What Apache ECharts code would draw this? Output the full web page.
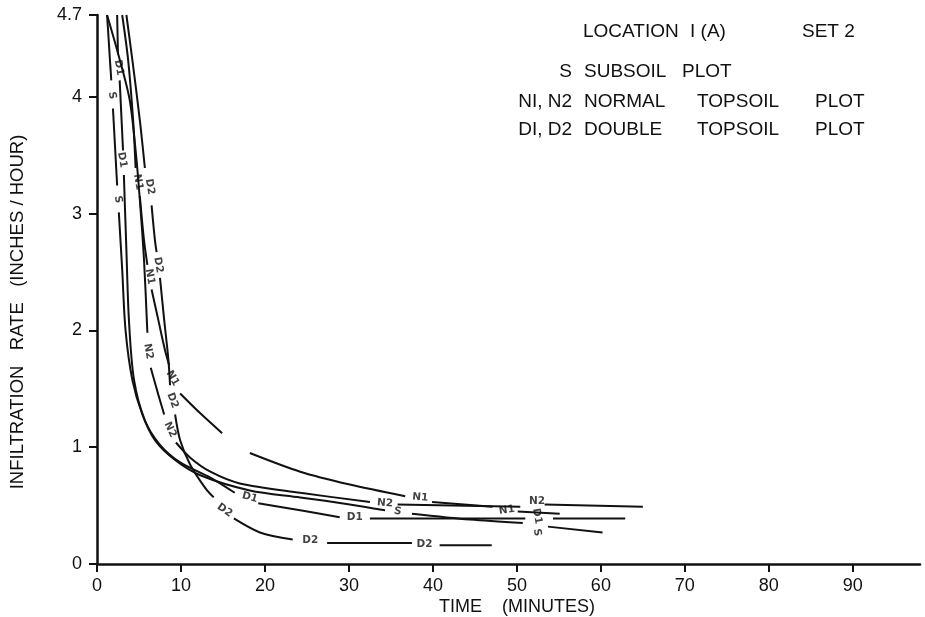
<!DOCTYPE html>
<html>
<head>
<meta charset="utf-8">
<script src="https://cdn.jsdelivr.net/npm/echarts@6/dist/echarts.min.js"></script>
<style>
  html, body { margin: 0; background: #fff; }
  #chart { width: 925px; height: 617px; }
</style>
</head>
<body>
<div id="chart"></div>
<script>
// axis ticks
const timeTicks = [0, 10, 20, 30, 40, 50, 60, 70, 80, 90];
const rateTicks = [0, 1, 2, 3, 4, 4.7];

// curves, split where the drawing leaves a gap: [minutes, inches/hour]
const curveS = [
  [[1.2, 4.70], [1.7, 4.14]],
  [[1.9, 3.90], [2.4, 3.24]],
  [[2.6, 3.01], [3.0, 2.52], [3.4, 2.00], [4.2, 1.58], [5.4, 1.28], [6.9, 1.06], [9.3, 0.89],
   [12.3, 0.76], [18.2, 0.63], [24.2, 0.57], [30.1, 0.51], [34.3, 0.46]],
  [[37.5, 0.43], [44.4, 0.38], [50.7, 0.35]],
  [[53.7, 0.32], [60.2, 0.27]]
];
const curveD1 = [
  [[2.4, 4.70], [2.5, 4.36]],
  [[2.7, 4.14], [3.1, 3.54]],
  [[3.2, 3.33], [3.5, 2.69], [3.8, 2.09], [4.4, 1.58], [5.7, 1.23], [7.5, 1.02], [9.9, 0.87],
   [13.5, 0.74], [16.4, 0.61]],
  [[19.2, 0.52], [24.2, 0.46], [28.9, 0.40]],
  [[32.5, 0.39], [51.0, 0.39]],
  [[54.3, 0.39], [62.9, 0.39]]
];
const curveN1 = [
  [[3.0, 4.70], [3.7, 4.32], [4.3, 3.80], [4.6, 3.39]],
  [[5.1, 3.15], [5.6, 2.77], [6.0, 2.56]],
  [[6.5, 2.35], [7.3, 2.09], [8.1, 1.83], [8.6, 1.70]],
  [[9.9, 1.46], [12.3, 1.29], [14.9, 1.12]],
  [[18.2, 0.95], [24.2, 0.79], [30.1, 0.68], [36.7, 0.58]],
  [[39.9, 0.53], [47.1, 0.49]],
  [[50.1, 0.45], [55.1, 0.43]]
];
const curveN2 = [
  [[1.2, 4.70], [2.7, 4.32], [3.9, 3.97], [4.6, 3.54], [5.1, 3.12], [5.6, 2.60], [6.0, 1.98]],
  [[6.4, 1.68], [7.3, 1.45], [8.0, 1.28]],
  [[9.4, 1.04], [11.1, 0.91], [13.5, 0.79], [17.0, 0.69], [24.2, 0.61], [32.5, 0.53]],
  [[35.8, 0.51], [50.4, 0.49]],
  [[53.3, 0.51], [65.0, 0.49]]
];
const curveD2 = [
  [[3.5, 4.70], [4.2, 4.32], [5.1, 3.80], [5.7, 3.39]],
  [[6.5, 3.07], [6.9, 2.77], [7.1, 2.67]],
  [[7.5, 2.45], [8.0, 2.09], [8.5, 1.75], [8.7, 1.53]],
  [[9.3, 1.28], [9.9, 1.06], [11.1, 0.85], [12.9, 0.65], [13.9, 0.57]],
  [[16.3, 0.39], [19.4, 0.27], [23.3, 0.21]],
  [[27.4, 0.18], [37.5, 0.18]],
  [[40.8, 0.16], [47.0, 0.16]]
];

// curve names written in the gaps: [minutes, inches/hour, text, rotation]
const curveLabels = [
  [1.8, 4.01, 'S', -80], [2.5, 3.12, 'S', -80], [35.8, 0.45, 'S', -10], [52.4, 0.27, 'S', -80],
  [2.6, 4.25, 'D1', -80], [3.0, 3.46, 'D1', -80], [18.2, 0.57, 'D1', -15], [30.7, 0.40, 'D1', 0], [52.4, 0.41, 'D1', -80],
  [4.9, 3.27, 'N1', -80], [6.3, 2.46, 'N1', -80], [9.0, 1.59, 'N1', -60], [38.5, 0.57, 'N1', -5], [48.8, 0.46, 'N1', 8],
  [6.1, 1.82, 'N2', -80], [8.7, 1.15, 'N2', -65], [34.3, 0.52, 'N2', -5], [52.4, 0.54, 'N2', 0],
  [6.3, 3.23, 'D2', -80], [7.3, 2.56, 'D2', -80], [9.0, 1.40, 'D2', -70], [15.2, 0.46, 'D2', -35],
  [25.4, 0.20, 'D2', 0], [39.0, 0.17, 'D2', 0]
];

// key in the upper right: [text, x, y, align]
const keyWords = [
  ['LOCATION', 583, 32, 'left'], ['I (A)', 690, 32, 'left'], ['SET 2', 802, 32, 'left'],
  ['S', 572, 72, 'right'], ['SUBSOIL', 584, 72, 'left'], ['PLOT', 682, 72, 'left'],
  ['NI, N2', 572, 102, 'right'], ['NORMAL', 584, 102, 'left'], ['TOPSOIL', 697, 102, 'left'], ['PLOT', 815, 102, 'left'],
  ['DI, D2', 572, 130, 'right'], ['DOUBLE', 584, 130, 'left'], ['TOPSOIL', 697, 130, 'left'], ['PLOT', 815, 130, 'left']
];

const ink = '#111';
const font = 'Liberation Sans';

let series = [];
[curveS, curveD1, curveN1, curveN2, curveD2].forEach(curve => {
  curve.forEach(seg => {
    series.push({
      type: 'line',
      data: seg,
      smooth: 0.3,
      symbol: 'none',
      lineStyle: { color: ink, width: 2 },
      silent: true,
    });
  });
});
series.push({
  type: 'scatter',
  symbolSize: 1,
  itemStyle: { color: 'rgba(0,0,0,0)' },
  data: curveLabels.map(l => ({
    value: [l[0], l[1]],
    name: l[2],
    label: { rotate: l[3] },
  })),
  label: {
    show: true,
    position: 'inside',
    formatter: p => p.name,
    color: ink,
    fontSize: 10.5,
    fontWeight: 'bold',
    fontFamily: 'DejaVu Sans',
  },
  silent: true,
});

let chart = echarts.init(document.getElementById('chart'));
chart.setOption({
  animation: false,
  backgroundColor: '#fff',
  grid: { left: 97, right: 5, top: 15, bottom: 53, outerBoundsMode: 'none' },
  xAxis: {
    type: 'value',
    min: 0,
    max: 98,
    interval: 10,
    axisLine: { lineStyle: { color: ink, width: 2.5 } },
    axisTick: { show: true, length: 8, lineStyle: { color: ink, width: 2 }, customValues: timeTicks },
    axisLabel: { color: ink, fontSize: 18, fontFamily: font, margin: 13, customValues: timeTicks },
    splitLine: { show: false },
  },
  yAxis: {
    type: 'value',
    min: 0,
    max: 4.7,
    axisLine: { show: true, lineStyle: { color: ink, width: 2.5 } },
    axisTick: { show: true, length: 8, lineStyle: { color: ink, width: 2 }, customValues: rateTicks },
    axisLabel: { color: ink, fontSize: 18, fontFamily: font, margin: 15, customValues: rateTicks },
    splitLine: { show: false },
  },
  graphic: [
    {
      type: 'text',
      x: 18,
      y: 312,
      rotation: Math.PI / 2,
      style: {
        text: 'INFILTRATION   RATE   (INCHES / HOUR)',
        fill: ink,
        fontSize: 18.5,
        fontFamily: font,
        align: 'center',
        verticalAlign: 'middle',
      },
    },
    {
      type: 'text',
      x: 517,
      y: 607,
      style: {
        text: 'TIME    (MINUTES)',
        fill: ink,
        fontSize: 18,
        fontFamily: font,
        align: 'center',
        verticalAlign: 'middle',
      },
    },
  ].concat(keyWords.map(w => ({
    type: 'text',
    x: w[1],
    y: w[2],
    style: {
      text: w[0],
      fill: ink,
      fontSize: 19,
      fontFamily: font,
      align: w[3],
      verticalAlign: 'middle',
    },
  }))),
  series: series,
});
</script>
</body>
</html>
